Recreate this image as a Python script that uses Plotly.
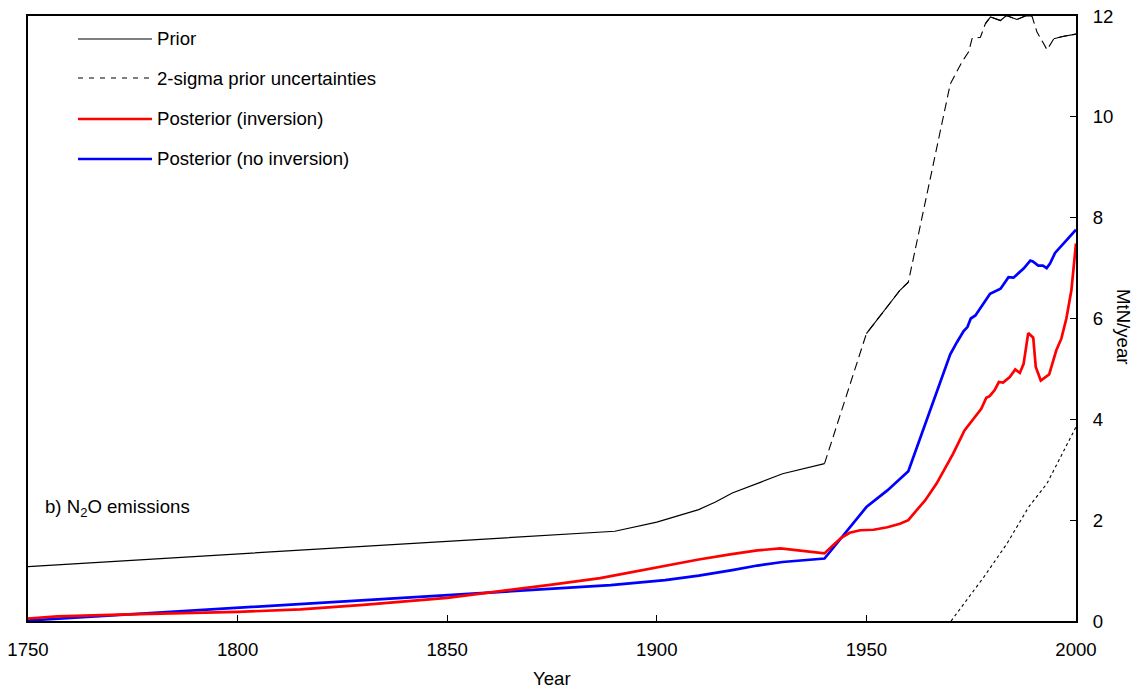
import plotly.graph_objects as go

# ---------------- data ----------------
prior_years = [1750, 1800, 1815, 1850, 1886.5, 1890, 1900, 1910, 1914, 1918, 1925, 1930, 1940]
prior_vals = [1.08, 1.33, 1.40, 1.58, 1.75, 1.78, 1.96, 2.21, 2.36, 2.54, 2.76, 2.92, 3.12]

upper_years = [1940, 1950, 1958, 1960, 1970, 1972.8, 1974.4, 1975.2, 1977.2, 1978.4, 1979.6,
               1982, 1983.4, 1985.9, 1987.9, 1989.5, 1990.7, 1993.1, 1994.7, 1997.1, 2000]
upper_vals = [3.12, 5.70, 6.56, 6.72, 10.65, 11.09, 11.29, 11.55, 11.58, 11.85, 11.98,
              11.91, 12.01, 11.93, 12.0, 12.0, 11.68, 11.33, 11.55, 11.60, 11.64]
# parts of the upper bound that the reference draws as a continuous stroke
upper_solid_spans = [(1950, 1960), (1978.4, 1989.5), (1994.7, 2000)]

lower_years = [1970.2, 1978, 1983.5, 1988.7, 1993.1, 1995.5, 1999.3, 2000]
lower_vals = [0.0, 0.87, 1.53, 2.26, 2.73, 3.12, 3.75, 3.85]

blue_years = [1750, 1774, 1800, 1820, 1840, 1862, 1889, 1902, 1910, 1918, 1924, 1930, 1934, 1940,
              1950, 1955, 1960, 1970, 1971.6, 1973.2, 1974.1, 1974.9, 1976, 1978.4, 1979.5, 1982,
              1983.9, 1985.1, 1987.5, 1989.1, 1989.7, 1991, 1992.1, 1993, 1993.8, 1995, 2000]
blue_vals = [0.01, 0.13, 0.26, 0.36, 0.47, 0.58, 0.71, 0.81, 0.90, 1.01, 1.10, 1.17, 1.20, 1.24,
             2.26, 2.59, 2.97, 5.29, 5.53, 5.75, 5.83, 6.0, 6.06, 6.37, 6.49, 6.59,
             6.82, 6.81, 6.99, 7.15, 7.13, 7.05, 7.05, 7.0, 7.09, 7.30, 7.76]

red_years = [1750, 1757, 1774, 1800, 1815, 1830, 1850, 1862, 1875, 1886.5, 1902, 1910, 1917.5,
             1924, 1929.5, 1934, 1940, 1942, 1944, 1946, 1948.5, 1951.7, 1955, 1958, 1960, 1962,
             1964, 1966.7, 1970.7, 1973.4, 1975.8, 1977.4, 1978.6, 1979.4, 1980.6, 1981.6, 1982.6,
             1984.2, 1985.5, 1986.6, 1987.5, 1988.6, 1989.8, 1990.4, 1991.6, 1993.6, 1995.3,
             1996.5, 1997.7, 1998.9, 2000]
red_vals = [0.05, 0.09, 0.13, 0.18, 0.23, 0.32, 0.46, 0.58, 0.72, 0.85, 1.10, 1.22, 1.32,
            1.40, 1.44, 1.40, 1.34, 1.50, 1.65, 1.75, 1.80, 1.81, 1.86, 1.93, 2.0, 2.2,
            2.39, 2.72, 3.32, 3.78, 4.05, 4.21, 4.43, 4.46, 4.58, 4.74, 4.73,
            4.84, 4.99, 4.92, 5.10, 5.71, 5.62, 5.04, 4.77, 4.89, 5.37,
            5.60, 6.00, 6.56, 7.49]

x_ticks = [1750, 1800, 1850, 1900, 1950, 2000]
y_ticks = [0, 2, 4, 6, 8, 10, 12]

legend_labels = ["Prior", "2-sigma prior uncertainties", "Posterior (inversion)", "Posterior (no inversion)"]

FONT = "Liberation Sans, Arial, sans-serif"
FS = 18.6
BLACK = "#000000"
RED = "#FF0000"
BLUE = "#0000FF"

fig = go.Figure()

# upper 2-sigma bound (dashed)
fig.add_trace(go.Scatter(x=upper_years, y=upper_vals, mode="lines",
                         line=dict(color=BLACK, width=1.1, dash="9px,5px"), hoverinfo="skip"))
# continuous stretches of the upper bound
for a, b in upper_solid_spans:
    xs = [x for x in upper_years if a <= x <= b]
    ys = [v for x, v in zip(upper_years, upper_vals) if a <= x <= b]
    fig.add_trace(go.Scatter(x=xs, y=ys, mode="lines",
                             line=dict(color=BLACK, width=1.1), hoverinfo="skip"))
# lower 2-sigma bound (fine dashes)
fig.add_trace(go.Scatter(x=lower_years, y=lower_vals, mode="lines",
                         line=dict(color=BLACK, width=1.1, dash="3px,3px"), hoverinfo="skip"))
# prior
fig.add_trace(go.Scatter(x=prior_years, y=prior_vals, mode="lines",
                         line=dict(color=BLACK, width=1.2), name=legend_labels[0]))
# posterior (no inversion)
fig.add_trace(go.Scatter(x=blue_years, y=blue_vals, mode="lines",
                         line=dict(color=BLUE, width=2.7), name=legend_labels[3]))
# posterior (inversion)
fig.add_trace(go.Scatter(x=red_years, y=red_vals, mode="lines",
                         line=dict(color=RED, width=2.7), name=legend_labels[2]))

# plot area in pixels: x 28..1076, y 16..621
L, R, T, B = 28, 1076, 16, 621
W, H = R - L, B - T


def px(xp):
    return (xp - L) / W


def py(yp):
    return (B - yp) / H


# manual legend
leg_rows = [39, 78, 119, 159]
leg_styles = [dict(color=BLACK, width=1.2, dash="solid"),
              dict(color=BLACK, width=1.1, dash="5px,6px"),
              dict(color=RED, width=2.7, dash="solid"),
              dict(color=BLUE, width=2.7, dash="solid")]
shapes = []
annotations = []
for row, style, label in zip(leg_rows, leg_styles, legend_labels):
    shapes.append(dict(type="line", xref="paper", yref="paper",
                       x0=px(78), x1=px(152), y0=py(row), y1=py(row), line=style))
    annotations.append(dict(xref="paper", yref="paper", x=px(155), y=py(row),
                            xanchor="left", yanchor="middle", showarrow=False,
                            text=label, font=dict(family=FONT, size=FS, color=BLACK)))

annotations.append(dict(xref="paper", yref="paper", x=px(43), y=py(508),
                        xanchor="left", yanchor="middle", showarrow=False,
                        text="b) N<sub>2</sub>O emissions",
                        font=dict(family=FONT, size=FS, color=BLACK)))
annotations.append(dict(xref="paper", yref="paper", x=px(552), y=py(678),
                        xanchor="center", yanchor="middle", showarrow=False,
                        text="Year", font=dict(family=FONT, size=FS, color=BLACK)))
annotations.append(dict(xref="paper", yref="paper", x=px(1124), y=py(326),
                        xanchor="center", yanchor="middle", showarrow=False, textangle=90,
                        text="MtN/year", font=dict(family=FONT, size=FS, color=BLACK)))

fig.update_layout(
    width=1143, height=691,
    margin=dict(l=L, r=1143 - R, t=T, b=691 - B, pad=0, autoexpand=False),
    paper_bgcolor="white", plot_bgcolor="white",
    showlegend=False,
    font=dict(family=FONT, size=FS, color=BLACK),
    shapes=shapes, annotations=annotations,
    xaxis=dict(range=[1750, 2000], tickvals=x_ticks, ticktext=[str(v) for v in x_ticks],
               ticks="inside", ticklen=6, tickwidth=1, tickcolor=BLACK,
               showline=True, linewidth=2, linecolor=BLACK, mirror=True, automargin=False,
               ticklabelstandoff=11,
               showgrid=False, zeroline=False, tickfont=dict(family=FONT, size=FS, color=BLACK)),
    yaxis=dict(range=[0, 12], tickvals=y_ticks, ticktext=[str(v) for v in y_ticks], side="right",
               ticks="inside", ticklen=6, tickwidth=1, tickcolor=BLACK,
               showline=True, linewidth=2, linecolor=BLACK, mirror=True, automargin=False,
               ticklabelstandoff=11,
               showgrid=False, zeroline=False, tickfont=dict(family=FONT, size=FS, color=BLACK)),
)

fig.write_html("out.html")
